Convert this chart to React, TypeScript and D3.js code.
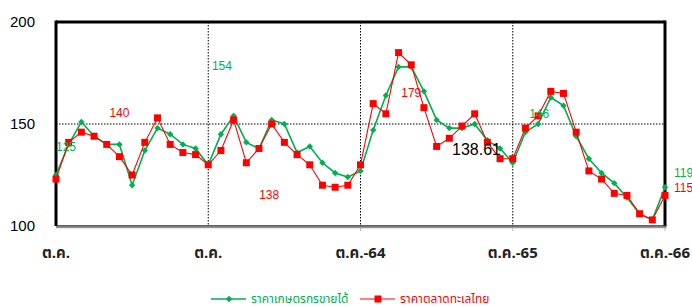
import * as React from "react";
import * as d3 from "d3";

// monthly prices, Oct-62 .. Oct-66 (49 points)
const farmPrice = [125, 140, 151, 144, 140, 140, 120, 137, 148, 145, 140, 138, 130, 145, 154, 141, 138, 152, 150, 136, 139, 131, 126, 124, 127, 147, 164, 178, 178, 166, 152, 148, 148, 150, 142, 138, 131, 146, 150, 163, 159, 144, 133, 126, 121, 114, 106, 103, 119];
const marketPrice = [123, 141, 146, 144, 140, 134, 125, 141, 153, 140, 136, 135, 130, 137, 152, 131, 138, 150, 141, 135, 130, 120, 119, 120, 130, 160, 155, 185, 179, 158, 139, 143, 149, 155, 141, 133, 133, 148, 154, 166, 165, 146, 127, 123, 116, 115, 106, 103, 115];

const xTickIdx = [0, 12, 24, 36, 48];
const xTickLabels = ["ต.ค.", "ต.ค.", "ต.ค.-64", "ต.ค.-65", "ต.ค.-66"];
const yTicks = [100, 150, 200];

// stray data labels as they sit in the original
const greenLabels = [
  { text: "125", i: 0, v: 137 },
  { text: "154", i: 13, v: 176.5 },
  { text: "146", i: 38, v: 153 },
  { text: "119", i: 48, v: 124 },
];
const redLabels = [
  { text: "140", i: 5, v: 153.5 },
  { text: "138", i: 16.8, v: 113 },
  { text: "179", i: 28, v: 163 },
  { text: "115", i: 48, v: 116.7 },
];

const GREEN = "#00b050";
const RED = "#ff0000";
const NUM_FONT = "'Liberation Sans', Arial, sans-serif";
const THAI_FONT = "Tahoma, 'Noto Sans Thai', 'Noto Sans', 'DejaVu Sans', sans-serif";

export default function App() {
  const width = 692;
  const height = 307;
  const left = 56, right = 665, top = 22, bottom = 226;

  const x = d3.scaleLinear().domain([0, 48]).range([left, right]);
  const y = d3.scaleLinear().domain([100, 200]).range([bottom, top]);

  const line = d3.line<number>().x((_, i) => x(i)).y(d => y(d));

  const diamond = (cx: number, cy: number, r: number) =>
    `M${cx},${cy - r}L${cx + r},${cy}L${cx},${cy + r}L${cx - r},${cy}Z`;

  return (
    <svg width={width} height={height} style={{ position: "absolute", left: 0, top: 0, background: "#fff" }}>
      {/* grid */}
      <line x1={left} x2={right} y1={y(150)} y2={y(150)} stroke="#000" strokeWidth={1} strokeDasharray="1.5,1.5" />
      {xTickIdx.slice(1, 4).map(i => (
        <line key={i} x1={x(i)} x2={x(i)} y1={top} y2={bottom} stroke="#000" strokeWidth={1} strokeDasharray="1.5,1.5" />
      ))}
      {xTickIdx.slice(2).map(i => (
        <line key={"t" + i} x1={x(i)} x2={x(i)} y1={bottom} y2={bottom + 5} stroke="#bbb" strokeWidth={1} />
      ))}

      {/* frame */}
      <line x1={left} x2={right} y1={top} y2={top} stroke="#000" strokeWidth={3} />
      <line x1={left} x2={left} y1={top - 1.5} y2={bottom} stroke="#000" strokeWidth={3} />
      <line x1={right} x2={right} y1={top - 1.5} y2={bottom} stroke="#000" strokeWidth={3} />
      <line x1={left} x2={right + 1.5} y1={bottom} y2={bottom} stroke="#333" strokeWidth={1.5} />
      <line x1={left} x2={right + 1.5} y1={bottom + 1.5} y2={bottom + 1.5} stroke="#999" strokeWidth={1.5} />

      {/* y ticks */}
      {yTicks.map(t => (
        <text key={t} x={35} y={y(t)} dy="0.35em" textAnchor="end" fontFamily={NUM_FONT} fontSize={15} fill="#000">{t}</text>
      ))}

      {/* x ticks */}
      {xTickIdx.map((i, k) => (
        <text key={i} x={x(i)} y={258} textAnchor="middle" fontFamily={THAI_FONT} fontSize={15} fontWeight="bold" fill="#222">{xTickLabels[k]}</text>
      ))}

      {/* series */}
      <path d={line(farmPrice) || ""} fill="none" stroke={GREEN} strokeWidth={1.6} />
      {farmPrice.map((v, i) => (
        <path key={i} d={diamond(x(i), y(v), 3.2)} fill={GREEN} />
      ))}
      <path d={line(marketPrice) || ""} fill="none" stroke={RED} strokeWidth={1.1} />
      {marketPrice.map((v, i) => (
        <rect key={i} x={x(i) - 3.5} y={y(v) - 3.5} width={7} height={7} fill={RED} />
      ))}

      {/* labels */}
      {greenLabels.map(l => (
        <text key={l.text} x={x(l.i)} y={y(l.v)} dx={l.i === 48 ? 9 : (l.i === 0 ? 0 : -9)} fontFamily={NUM_FONT} fontSize={12} fill={GREEN}>{l.text}</text>
      ))}
      {redLabels.map(l => (
        <text key={l.text} x={x(l.i)} y={y(l.v)} dx={l.i === 48 ? 9 : -10} fontFamily={NUM_FONT} fontSize={12} fill={RED}>{l.text}</text>
      ))}
      <text x={452} y={155} fontFamily={NUM_FONT} fontSize={16} fill="#000">138.61</text>

      {/* legend */}
      <g transform="translate(0,299)">
        <line x1={211} x2={246} y1={0} y2={0} stroke={GREEN} strokeWidth={1.6} />
        <path d={diamond(229, 0, 3.2)} fill={GREEN} />
        <text x={251} y={0} dy="0.33em" fontFamily={THAI_FONT} fontSize={12} fill={GREEN}>ราคาเกษตรกรขายได้</text>
        <line x1={360} x2={395} y1={0} y2={0} stroke={RED} strokeWidth={1.1} />
        <rect x={374.5} y={-3.5} width={7} height={7} fill={RED} />
        <text x={400} y={0} dy="0.33em" fontFamily={THAI_FONT} fontSize={12} fill={RED}>ราคาตลาดทะเลไทย</text>
      </g>
    </svg>
  );
}
